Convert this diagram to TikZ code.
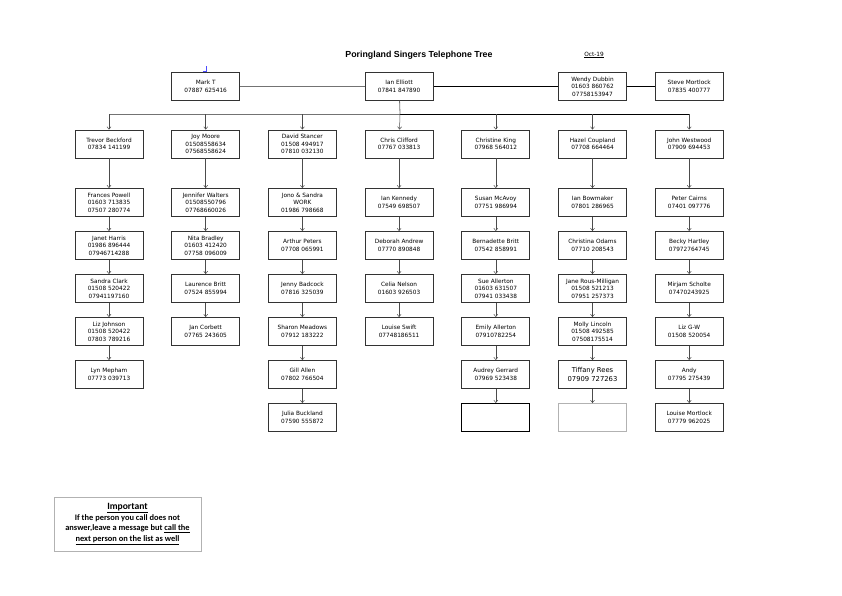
\documentclass[tikz,border=0pt]{standalone}
\usepackage{fontspec}
\usetikzlibrary{arrows.meta}
\newfontfamily\treefont{DejaVu Sans}
\newfontfamily\titlefont{Liberation Sans}
\newfontfamily\notefont{Carlito}

\begin{document}
\begin{tikzpicture}[x=1pt,y=-1pt,
					-{Straight Barb[length=2.5pt,width=4pt]},
					node distance=43pt,
					line width=0.5pt,
					person/.style={rectangle,draw=black!80,line width=0.8pt,
					  minimum width=68pt,minimum height=28pt,inner sep=1pt,
					  align=center,font=\treefont\fontsize{5.8}{7.6}\selectfont},
					head/.style={person,node distance=96.7pt},
					first/.style={person,node distance=58.5pt},
					top/.style={person,node distance=57.5pt}]

  \useasboundingbox (0,0) rectangle (842,595);

  % titles
  \node[font=\titlefont\bfseries\fontsize{8.8}{10}\selectfont] (title) at (419,55) {Poringland Singers Telephone Tree};
  \node[font=\treefont\fontsize{5.8}{7}\selectfont] (date) at (594,55) {\underline{Oct-19}};

  % column heads
  \node[person] (trevor) at (109,144) {Trevor Beckford\\07834 141199};
  \node[head] (joy) [right of=trevor] {Joy Moore\\01508558634\\07568558624};
  \node[head] (david) [right of=joy] {David Stancer\\01508 494917\\07810 032130};
  \node[head] (chris) [right of=david] {Chris Clifford\\07767 033813};
  \node[head] (christine) [right of=chris] {Christine King\\07968 564012};
  \node[head] (hazel) [right of=christine] {Hazel Coupland\\07708 664464};
  \node[head] (john) [right of=hazel] {John Westwood\\07909 694453};

  % top row
  \node[top] (mark) [above of=joy] {Mark T\\07887 625416};
  \node[top] (ianE) [above of=chris] {Ian Elliott\\07841 847890};
  \node[top] (wendy) [above of=hazel] {Wendy Dubbin\\01603 860762\\07758153947};
  \node[top] (steve) [above of=john] {Steve Mortlock\\07835 400777};

  % column 1
  \node[first] (frances) [below of=trevor] {Frances Powell\\01603 713835\\07507 280774};
  \node[person] (janet) [below of=frances] {Janet Harris\\01986 896444\\07946714288};
  \node[person] (sandra) [below of=janet] {Sandra Clark\\01508 520422\\07941197160};
  \node[person] (lizJ) [below of=sandra] {Liz Johnson\\01508 520422\\07803 789216};
  \node[person] (lyn) [below of=lizJ] {Lyn Mepham\\07773 039713};

  % column 2
  \node[first] (jennifer) [below of=joy] {Jennifer Walters\\01508550796\\07768660026};
  \node[person] (nita) [below of=jennifer] {Nita Bradley\\01603 412420\\07758 096009};
  \node[person] (laurence) [below of=nita] {Laurence Britt\\07524 855994};
  \node[person] (jan) [below of=laurence] {Jan Corbett\\07765 243605};

  % column 3
  \node[first] (jono) [below of=david] {Jono \& Sandra\\WORK\\01986 798668};
  \node[person] (arthur) [below of=jono] {Arthur Peters\\07708 065991};
  \node[person] (jenny) [below of=arthur] {Jenny Badcock\\07816 325039};
  \node[person] (sharon) [below of=jenny] {Sharon Meadows\\07912 183222};
  \node[person] (gill) [below of=sharon] {Gill Allen\\07802 766504};
  \node[person] (julia) [below of=gill] {Julia Buckland\\07590 555872};

  % column 4
  \node[first] (ianK) [below of=chris] {Ian Kennedy\\07549 698507};
  \node[person] (deborah) [below of=ianK] {Deborah Andrew\\07770 890848};
  \node[person] (celia) [below of=deborah] {Celia Nelson\\01603 926503};
  \node[person] (louiseS) [below of=celia] {Louise Swift\\07748186511};

  % column 5
  \node[first] (susan) [below of=christine] {Susan McAvoy\\07751 986994};
  \node[person] (bernadette) [below of=susan] {Bernadette Britt\\07542 858991};
  \node[person] (sue) [below of=bernadette] {Sue Allerton\\01603 631507\\07941 033438};
  \node[person] (emily) [below of=sue] {Emily Allerton\\07910782254};
  \node[person] (audrey) [below of=emily] {Audrey Gerrard\\07969 523438};
  \node[person,draw=black,line width=1pt] (blankA) [below of=audrey] {};

  % column 6
  \node[first] (ianB) [below of=hazel] {Ian Bowmaker\\07801 286965};
  \node[person] (christina) [below of=ianB] {Christina Odams\\07710 208543};
  \node[person] (jane) [below of=christina] {Jane Rous-Milligan\\01508 521213\\07951 257373};
  \node[person] (molly) [below of=jane] {Molly Lincoln\\01508 492585\\07508175514};
  \node[person,font=\treefont\fontsize{6.8}{9}\selectfont] (tiffany) [below of=molly] {Tiffany Rees\\07909 727263};
  \node[person,draw=black!30] (blankB) [below of=tiffany] {};

  % column 7
  \node[first] (peter) [below of=john] {Peter Cairns\\07401 097776};
  \node[person] (becky) [below of=peter] {Becky Hartley\\07972764745};
  \node[person] (mirjam) [below of=becky] {Mirjam Scholte\\07470243925};
  \node[person] (lizGW) [below of=mirjam] {Liz G-W\\01508 520054};
  \node[person] (andy) [below of=lizGW] {Andy\\07795 275439};
  \node[person] (louiseM) [below of=andy] {Louise Mortlock\\07779 962025};

  % top links and the bus
  \coordinate (bus) at (400,114);
  \draw[-,black!55,line width=1.2pt] (mark) -- (ianE);
  \draw[-,line width=0.8pt] (ianE) -- (wendy);
  \draw[-,line width=0.8pt] (wendy) -- (steve);
  \draw[-,black!55,line width=0.8pt] (ianE) -- (bus);
  \draw[-,black!55,line width=1pt] (trevor.north |- bus) -- (bus);
  \draw[-,line width=0.7pt] (bus) -- (john.north |- bus);
  \draw[blue!70,-] (206,66) -- (206,71) -- (203,71);

  \path[black!70]
    (trevor.north |- bus) edge (trevor)
    (joy.north |- bus) edge (joy)
    (david.north |- bus) edge (david)
    (bus) edge (chris)
    (christine.north |- bus) edge (christine)
    (hazel.north |- bus) edge (hazel)
    (john.north |- bus) edge (john);

  \path[black!70]
    (trevor) edge (frances)
    (frances) edge (janet)
    (janet) edge (sandra)
    (sandra) edge (lizJ)
    (lizJ) edge (lyn)
    (joy) edge (jennifer)
    (jennifer) edge (nita)
    (nita) edge (laurence)
    (laurence) edge (jan)
    (david) edge (jono)
    (jono) edge (arthur)
    (arthur) edge (jenny)
    (jenny) edge (sharon)
    (sharon) edge (gill)
    (gill) edge (julia)
    (chris) edge (ianK)
    (ianK) edge (deborah)
    (deborah) edge (celia)
    (celia) edge (louiseS)
    (christine) edge (susan)
    (susan) edge (bernadette)
    (bernadette) edge (sue)
    (sue) edge (emily)
    (emily) edge (audrey)
    (audrey) edge (blankA)
    (hazel) edge (ianB)
    (ianB) edge (christina)
    (christina) edge (jane)
    (jane) edge (molly)
    (molly) edge (tiffany)
    (tiffany) edge (blankB)
    (john) edge (peter)
    (peter) edge (becky)
    (becky) edge (mirjam)
    (mirjam) edge (lizGW)
    (lizGW) edge (andy)
    (andy) edge (louiseM);

  % note
  \node[draw=black!30,line width=0.8pt,minimum width=147pt,minimum height=54pt,
        align=center,font=\notefont\bfseries\fontsize{8.4}{10.8}\selectfont] (note) at (127.5,524)
    {{\fontsize{9.6}{10.8}\selectfont\underline{Important}}\\If the person you call does not\\
     answer,leave a message but \underline{call the}\\\underline{next person on the list as well}};
\end{tikzpicture}
\end{document}
